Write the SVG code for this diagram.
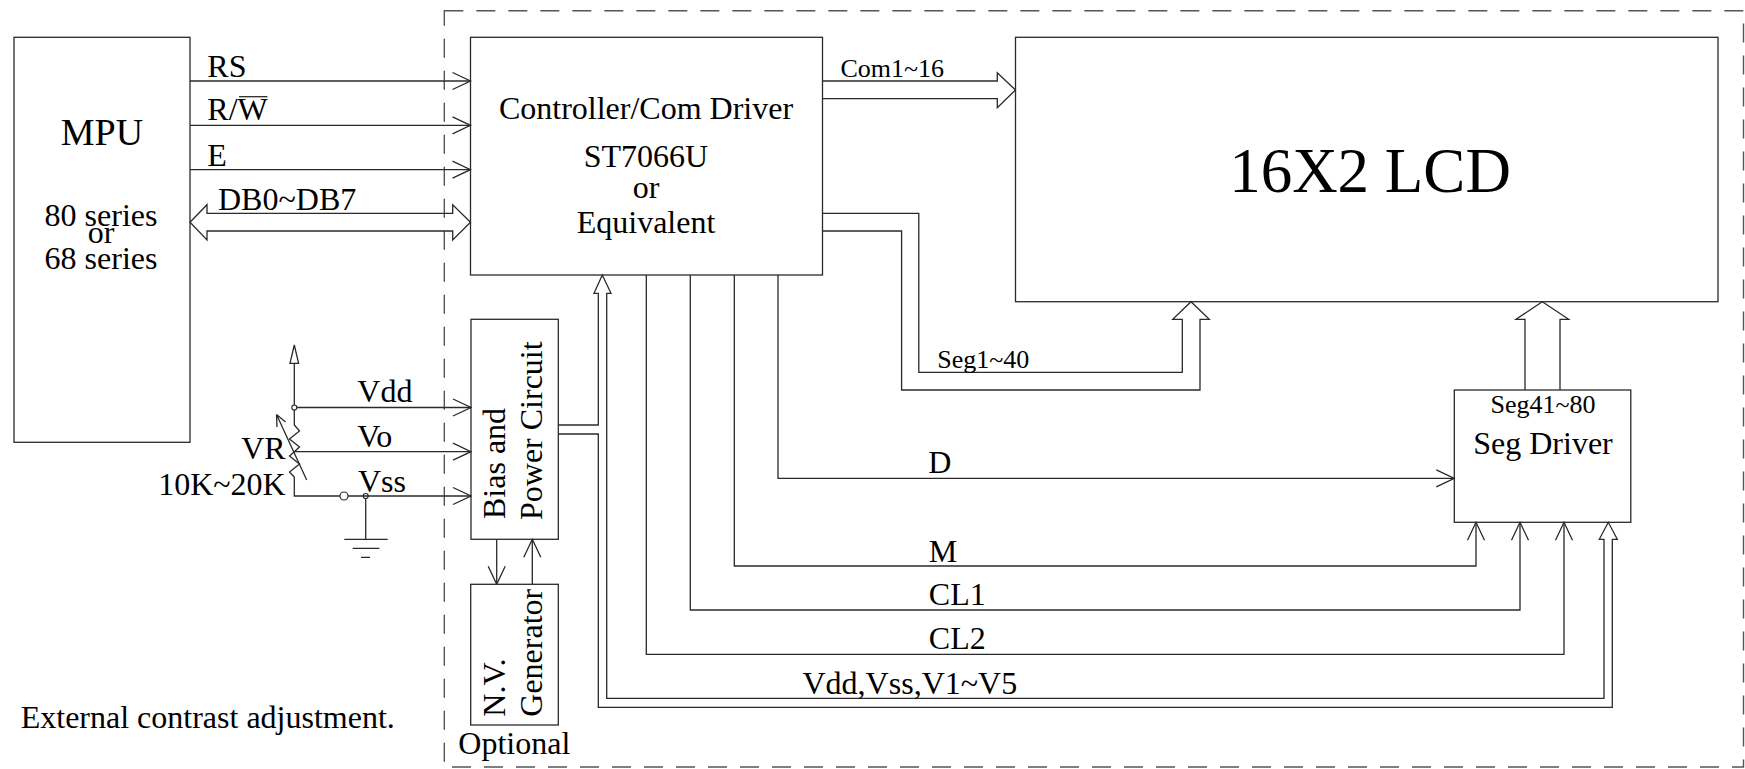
<svg xmlns="http://www.w3.org/2000/svg" width="1745" height="769" viewBox="0 0 1745 769">
<style>
.box{fill:none;stroke:#2a2a2a;stroke-width:1.3}
.ln{fill:none;stroke:#2a2a2a;stroke-width:1.3}
.dash{fill:none;stroke:#555;stroke-width:1.4;stroke-dasharray:19 13}
text{font-family:"Liberation Serif","Times New Roman",serif;fill:#000}
.t32{font-size:32px}
.t26{font-size:26px}
.mid{text-anchor:middle}
.end{text-anchor:end}
</style>
<defs>
<marker id="arr" viewBox="-20 -10 21 20" refX="0" refY="0" markerWidth="21" markerHeight="20" markerUnits="userSpaceOnUse" orient="auto">
<path d="M-18,-8.5 L0,0 L-18,8.5" fill="none" stroke="#2a2a2a" stroke-width="1.3"/>
</marker>
</defs>
<rect width="1745" height="769" fill="#fff"/>

<g id="module-boundary">
<rect class="dash" x="444.3" y="10.7" width="1299.2" height="756.3"/>
</g>

<g id="mpu">
<rect class="box" x="14" y="37.3" width="176" height="405"/>
<text class="mid" x="102" y="145" font-size="38">MPU</text>
<text class="t32 mid" x="101" y="225.7">80 series</text>
<text class="t32 mid" x="101" y="243">or</text>
<text class="t32 mid" x="101" y="269">68 series</text>
</g>

<g id="controller">
<rect class="box" x="470.5" y="37.3" width="352" height="237.7"/>
<text class="t32 mid" x="646" y="119">Controller/Com Driver</text>
<text class="t32 mid" x="646" y="166.7">ST7066U</text>
<text class="t32 mid" x="646" y="198">or</text>
<text class="t32 mid" x="646" y="233">Equivalent</text>
</g>

<g id="lcd">
<rect class="box" x="1015.5" y="37.3" width="702.5" height="264.4"/>
<text class="mid" x="1370" y="191.7" font-size="63">16X2 LCD</text>
</g>

<g id="bias">
<rect class="box" x="471" y="319.3" width="87.3" height="220"/>
<text class="t32" transform="translate(505,519) rotate(-90)">Bias and</text>
<text class="t32" transform="translate(541.7,520) rotate(-90)">Power Circuit</text>
</g>

<g id="nv-generator">
<rect class="box" x="470.7" y="584.3" width="87.6" height="140.7"/>
<text class="t32" transform="translate(505,716.7) rotate(-90)">N.V.</text>
<text class="t32" transform="translate(541.7,716.7) rotate(-90)">Generator</text>
<text class="t32" x="458.3" y="754">Optional</text>
</g>

<g id="seg-driver">
<rect class="box" x="1454.3" y="390" width="176.5" height="132.3"/>
<text class="t26 mid" x="1543" y="413.3">Seg41~80</text>
<text class="t32 mid" x="1543" y="454">Seg Driver</text>
</g>

<g id="contrast-circuit">
<path class="ln" d="M294.3,405 V363.3"/>
<path class="ln" d="M294.3,345 L298.6,363.3 L290,363.3 Z"/>
<circle cx="294.3" cy="407.5" r="2.5" fill="#fff" stroke="#2a2a2a" stroke-width="1.2"/>
<path class="ln" d="M294.3,410 V425 L299.5,431 L289.5,439 L299.5,447 L294.3,451.7 L289.5,456 L299.5,464 L289.5,472 L294.3,477 V496 H340"/>
<path class="ln" d="M306.7,480 L276.5,414.5 M276.5,414.5 L277,427 M276.5,414.5 L285.5,422"/>
<circle cx="344" cy="496" r="4" fill="#fff" stroke="#2a2a2a" stroke-width="1.2"/>
<circle cx="365.7" cy="496" r="2.5" fill="#fff" stroke="#2a2a2a" stroke-width="1.2"/>
<path class="ln" d="M365.7,498.5 V539.3 M344.3,539.3 H387.7 M352.7,548.3 H379.3 M361,557.3 H370"/>
<text class="t32 end" x="285.7" y="459.3">VR</text>
<text class="t32 end" x="285.7" y="495">10K~20K</text>
<text class="t32" x="20.7" y="728.3">External contrast adjustment.</text>
</g>

<g id="connectors">
<line class="ln" x1="190" y1="81" x2="470.5" y2="81" marker-end="url(#arr)"/>
<line class="ln" x1="190" y1="125.3" x2="470.5" y2="125.3" marker-end="url(#arr)"/>
<line class="ln" x1="190" y1="169.7" x2="470.5" y2="169.7" marker-end="url(#arr)"/>
<path class="ln" d="M190,222.3 L207,204.7 V213.3 H452.7 V204.7 L470.5,222.3 L452.7,240 V231 H207 V240 Z"/>
<path class="ln" d="M822.4,81 H997.3 V72.7 L1015.5,90 L997.3,107.7 V98.7 H822.4"/>
<path class="ln" d="M822.4,213.3 H918.8 V372.3 H1182.3 V319.3 H1172.7 L1191,301.7 L1209.3,319.3 H1200 V390 H901.6 V231 H822.4"/>
<path class="ln" d="M1525,390 V319.3 H1516 L1542.3,301.7 L1568.7,319.3 H1560 V390"/>
<path class="ln" d="M778,275 V478.3 H1454.3" marker-end="url(#arr)"/>
<path class="ln" d="M734.3,275 V566 H1476 V522.3" marker-end="url(#arr)"/>
<path class="ln" d="M690.3,275 V610 H1520 V522.3" marker-end="url(#arr)"/>
<path class="ln" d="M646.3,275 V654.3 H1564 V522.3" marker-end="url(#arr)"/>
<path class="ln" d="M558.3,425 H598.3 V293.3 H594 L602.3,275 L611,293.3 H606.7 V698.3 H1604 V539.3 H1599.3 L1608.3,522.3 L1617.3,539.3 H1612.3 V707.3 H598.3 V434 H558.3"/>
<line class="ln" x1="496.7" y1="539.3" x2="496.7" y2="584.3" marker-end="url(#arr)"/>
<line class="ln" x1="532.3" y1="584.3" x2="532.3" y2="539.3" marker-end="url(#arr)"/>
<line class="ln" x1="296.8" y1="407.5" x2="471" y2="407.5" marker-end="url(#arr)"/>
<line class="ln" x1="294.3" y1="451.7" x2="471" y2="451.7" marker-end="url(#arr)"/>
<line class="ln" x1="348" y1="496" x2="471" y2="496" marker-end="url(#arr)"/>
</g>

<g id="labels">
<text class="t32" x="207.3" y="76.7">RS</text>
<text class="t32" x="207.3" y="120">R/W</text>
<line class="ln" x1="239" y1="96.7" x2="267.5" y2="96.7"/>
<text class="t32" x="207.3" y="165.7">E</text>
<text class="t32" x="218" y="210">DB0~DB7</text>
<text class="t26" x="840.4" y="77.3">Com1~16</text>
<text class="t26" x="937.3" y="367.7">Seg1~40</text>
<text class="t32" x="928.3" y="473.3">D</text>
<text class="t32" x="928.8" y="561.7">M</text>
<text class="t32" x="928.8" y="605">CL1</text>
<text class="t32" x="928.8" y="649">CL2</text>
<text class="t32" x="802.5" y="694.3">Vdd,Vss,V1~V5</text>
<text class="t32" x="357.3" y="401.7">Vdd</text>
<text class="t32" x="357.3" y="446.7">Vo</text>
<text class="t32" x="358" y="491.7">Vss</text>
</g>
</svg>
